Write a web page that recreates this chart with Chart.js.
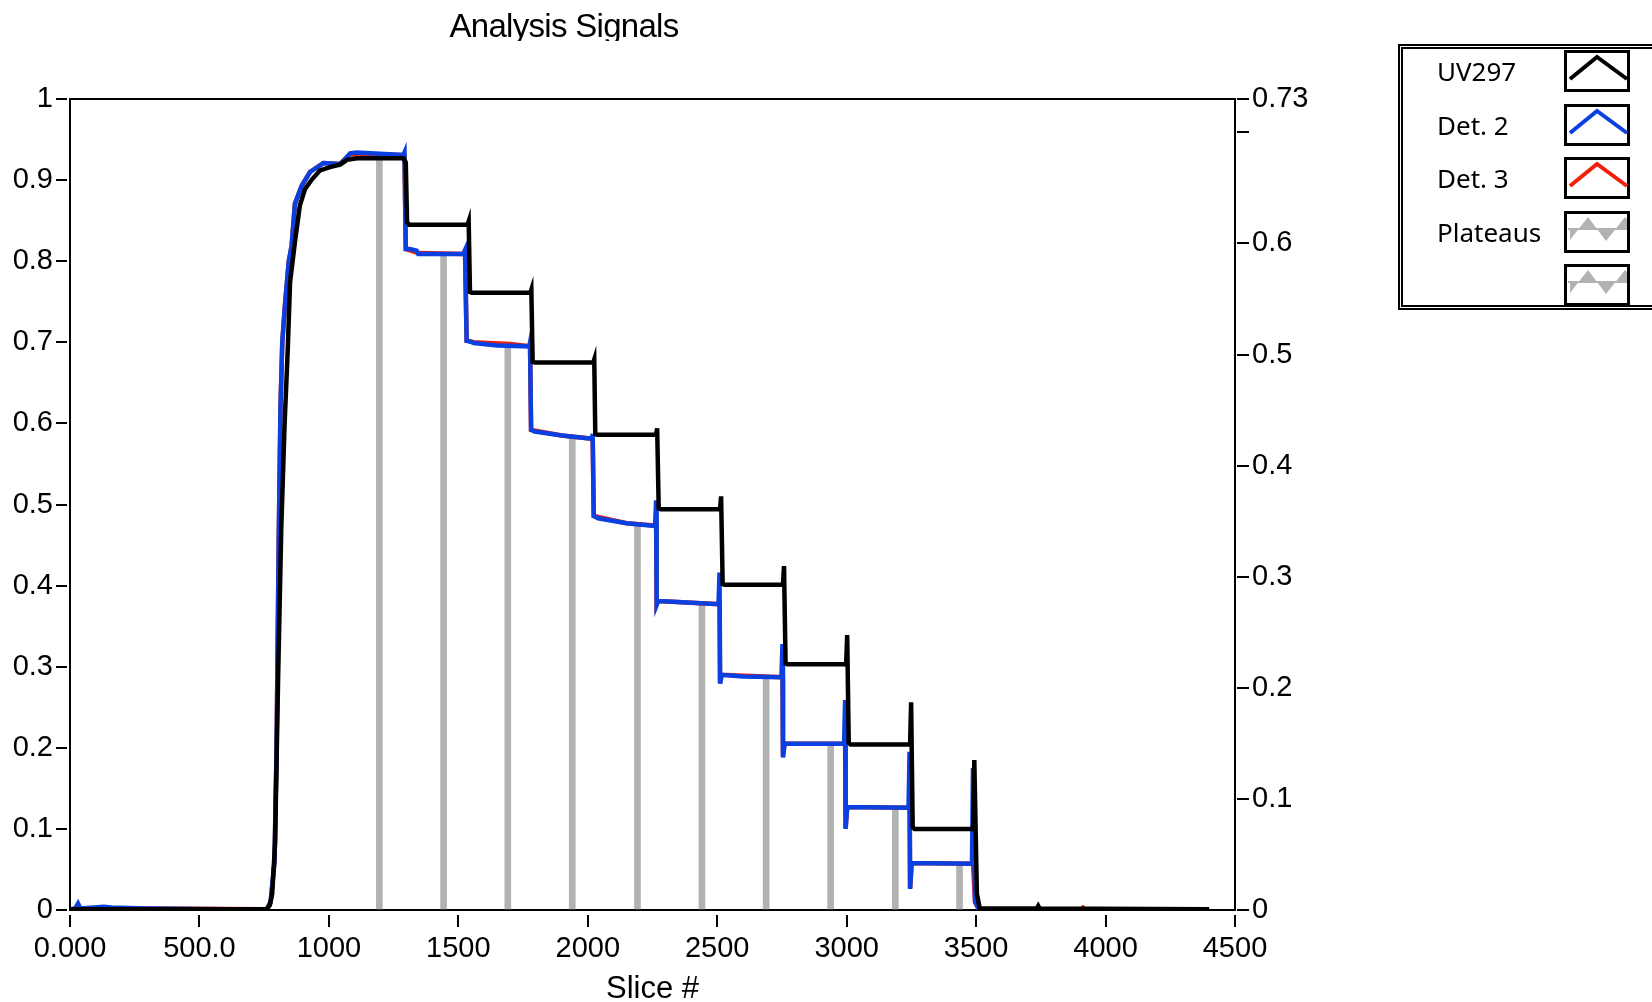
<!DOCTYPE html>
<html>
<head>
<meta charset="utf-8">
<title>Analysis Signals</title>
<script src="https://cdn.jsdelivr.net/npm/chart.js@4.4.7/dist/chart.umd.min.js"></script>
<style>
  html, body { margin: 0; padding: 0; background: #fff; overflow: hidden; }
  #wrap { position: relative; width: 1652px; height: 1002px; overflow: hidden; }
  #chart { position: absolute; left: 0; top: 0; }
  #title {
    position: absolute; left: 364px; top: 9px; width: 400px; height: 32px; overflow: hidden;
    text-align: center; font: 33px/33px "Liberation Sans", Arial, sans-serif;
    letter-spacing: -0.7px; color: #000;
  }
  #legend-frame {
    position: absolute; left: 1398px; top: 44px; width: 300px; height: 266px;
    box-sizing: border-box; border: 5px double #000;
  }
  .leg-label { position: absolute; left: 1437px; font: 26px/30px "Noto Sans", sans-serif; color: #000; white-space: nowrap; }
  .leg-swatch { position: absolute; left: 1564px; display: block; }
</style>
</head>
<body>
<div id="wrap">
  <canvas id="chart" width="1652" height="1002"></canvas>
  <div id="title">Analysis Signals</div>
  <div id="legend-frame"></div>
  <div id="legend"></div>
</div>
<script>
const seriesNames = ["UV297", "Det. 2", "Det. 3", "Plateaus"]
const seriesColors = ["#000000", "#0a40e0", "#f0200c", "#b2b2b2"]

// UV297 (black)
const uvSlices = [0, 300, 760, 772, 781, 792, 804, 816, 829, 841, 850, 869, 888, 908, 935, 966, 1004, 1043, 1070, 1109,
  1288, 1297, 1302, 1310, 1536, 1540, 1545, 1552, 1778, 1782, 1787, 1795, 2021, 2025, 2029, 2036,
  2264, 2268, 2274, 2282, 2511, 2515, 2521, 2528, 2754, 2758, 2764, 2771, 2998, 3002, 3008, 3015,
  3245, 3249, 3255, 3262, 3489, 3493, 3503, 3514, 3735, 3740, 3745, 4400]
const uvValues = [0.001, 0.001, 0.001, 0.006, 0.02, 0.081, 0.288, 0.47, 0.6, 0.69, 0.774, 0.824, 0.869, 0.889, 0.901, 0.912, 0.916, 0.919, 0.925, 0.927,
  0.927, 0.922, 0.848, 0.845, 0.845, 0.849, 0.762, 0.761, 0.761, 0.765, 0.676, 0.675, 0.675, 0.679, 0.587, 0.586,
  0.586, 0.594, 0.495, 0.494, 0.494, 0.51, 0.402, 0.401, 0.401, 0.424, 0.304, 0.303, 0.303, 0.339, 0.206, 0.204,
  0.204, 0.256, 0.102, 0.1, 0.1, 0.185, 0.02, 0.002, 0.002, 0.005, 0.002, 0.001]

// Det. 2 (blue)
const det2Slices = [0, 20, 31, 40, 130, 160, 300, 600, 760, 775, 790, 798, 806, 813, 820, 830, 845, 856, 869, 895, 927, 979, 1043, 1060, 1082, 1107,
  1288, 1292, 1297, 1313, 1339, 1345, 1519, 1526, 1532, 1545, 1560, 1650, 1774, 1777, 1781, 1795, 1900, 2016, 2019, 2023, 2040, 2150,
  2260, 2264, 2266, 2272, 2330, 2505, 2509, 2511, 2517, 2600, 2748, 2752, 2754, 2760, 2990, 2994, 2996, 3002,
  3239, 3243, 3245, 3251, 3484, 3488, 3496, 3510, 4400]
const det2Values = [0.001, 0.002, 0.008, 0.002, 0.004, 0.003, 0.002, 0.001, 0.001, 0.01, 0.06, 0.2, 0.45, 0.62, 0.7, 0.745, 0.8, 0.819, 0.871, 0.893, 0.91, 0.921, 0.92, 0.925, 0.933, 0.934,
  0.931, 0.934, 0.815, 0.815, 0.813, 0.809, 0.809, 0.814, 0.702, 0.701, 0.699, 0.696, 0.695, 0.7, 0.592, 0.59, 0.585, 0.581, 0.587, 0.486, 0.483, 0.477,
  0.4735, 0.505, 0.376, 0.381, 0.38, 0.377, 0.416, 0.279, 0.29, 0.288, 0.287, 0.328, 0.188, 0.205, 0.205, 0.259, 0.1, 0.127,
  0.126, 0.195, 0.026, 0.058, 0.057, 0.175, 0.01, 0.001, 0.001]

// Det. 3 (red, mostly under Det. 2)
const det3Slices = [0, 300, 760, 775, 790, 798, 806, 813, 820, 830, 845, 856, 869, 895, 927, 979, 1043, 1082, 1292, 1297, 1345, 1526,
  1532, 1560, 1700, 1777, 1781, 1900, 2019, 2023, 2150, 2264, 2266, 2272, 2509, 2511, 2517, 2752, 2754, 2760, 2994, 2996, 3002,
  3243, 3245, 3251, 3488, 3496, 3510, 3905, 3913, 3921, 4400]
const det3Values = [0.001, 0.002, 0.001, 0.01, 0.06, 0.2, 0.45, 0.62, 0.7, 0.745, 0.8, 0.819, 0.871, 0.893, 0.91, 0.921, 0.92, 0.932, 0.931, 0.815, 0.81, 0.809,
  0.702, 0.7, 0.698, 0.695, 0.592, 0.585, 0.581, 0.486, 0.477, 0.474, 0.377, 0.381, 0.377, 0.28, 0.29, 0.287, 0.19, 0.205, 0.205, 0.101, 0.127,
  0.126, 0.027, 0.058, 0.057, 0.01, 0.001, 0.001, 0.003, 0.001, 0.001]

// Plateaus (grey bars)
const plateauSlices = [1195, 1443, 1691, 1940, 2192, 2441, 2689, 2938, 3188, 3436]
const plateauLevels = [0.927, 0.809, 0.696, 0.581, 0.475, 0.377, 0.287, 0.205, 0.126, 0.057]

const xTicks = [0, 500, 1000, 1500, 2000, 2500, 3000, 3500, 4000, 4500]
const xTickLabels = ["0.000", "500.0", "1000", "1500", "2000", "2500", "3000", "3500", "4000", "4500"]
const leftTicks = [0, 0.1, 0.2, 0.3, 0.4, 0.5, 0.6, 0.7, 0.8, 0.9, 1]
const leftTickLabels = ["0", "0.1", "0.2", "0.3", "0.4", "0.5", "0.6", "0.7", "0.8", "0.9", "1"]
const rightTicks = [0, 0.1, 0.2, 0.3, 0.4, 0.5, 0.6, 0.7, 0.73]
const rightTickLabels = ["0", "0.1", "0.2", "0.3", "0.4", "0.5", "0.6", "", "0.73"]

const legendLabels = ["UV297", "Det. 2", "Det. 3", "Plateaus", ""]
const legendColors = ["#000000", "#0a40e0", "#f0200c", "#b2b2b2", "#b2b2b2"]

const points = (xs, ys) => xs.map((x, i) => ({ x, y: ys[i] }))
const tickFont = { family: "'Liberation Sans', Arial, sans-serif", size: 29 }

const plotFrame = {
  id: "plotFrame",
  beforeDatasetsDraw(chart) {
    const { ctx, chartArea: a } = chart
    ctx.save()
    ctx.strokeStyle = "#000"
    ctx.lineWidth = 2
    ctx.strokeRect(a.left, a.top, a.right - a.left, a.bottom - a.top)
    ctx.restore()
  }
}

const lineSet = (i, xs, ys) => ({
  label: seriesNames[i],
  data: points(xs, ys),
  borderColor: seriesColors[i],
  backgroundColor: seriesColors[i],
  borderWidth: 4.5,
  pointRadius: 0,
  tension: 0,
  fill: false
})

new Chart(document.getElementById("chart"), {
  type: "line",
  data: {
    datasets: [
      lineSet(0, uvSlices, uvValues),
      lineSet(1, det2Slices, det2Values),
      lineSet(2, det3Slices, det3Values),
      {
        type: "bar",
        label: seriesNames[3],
        data: points(plateauSlices, plateauLevels),
        backgroundColor: seriesColors[3],
        borderWidth: 0,
        barThickness: 6
      }
    ]
  },
  options: {
    responsive: false,
    animation: false,
    devicePixelRatio: 1,
    layout: { padding: { top: 99, right: 317, bottom: 0, left: 0 } },
    plugins: {
      legend: { display: false },
      tooltip: { enabled: false },
      title: { display: false }
    },
    scales: {
      x: {
        type: "linear",
        min: 0,
        max: 4500,
        offset: false,
        border: { display: false },
        grid: { offset: false, drawOnChartArea: false, color: "#000", lineWidth: 2, tickLength: 17, tickBorderDash: [0, 5, 12, 100] },
        ticks: { padding: 5, color: "#000", font: tickFont, maxRotation: 0, autoSkip: false, callback: (v, i) => xTickLabels[i] },
        afterBuildTicks: s => { s.ticks = xTicks.map(value => ({ value })) },
        afterFit: s => { s.height = 92 },
        title: {
          display: true,
          text: "Slice #",
          color: "#000",
          font: { family: "'Liberation Sans', Arial, sans-serif", size: 31, lineHeight: 0.8 },
          padding: 0
        }
      },
      y: {
        position: "left",
        min: 0,
        max: 1,
        border: { display: false },
        grid: { drawOnChartArea: false, color: "#000", lineWidth: 2, tickLength: 14, tickBorderDash: [11, 100] },
        ticks: { padding: 3, color: "#000", font: tickFont, autoSkip: false, callback: (v, i) => leftTickLabels[i] },
        afterBuildTicks: s => { s.ticks = leftTicks.map(value => ({ value })) },
        afterFit: s => { s.width = 70 }
      },
      y2: {
        position: "right",
        min: 0,
        max: 0.73,
        border: { display: false },
        grid: { drawOnChartArea: false, color: "#000", lineWidth: 2, tickLength: 14, tickBorderDash: [0, 2, 12, 100] },
        ticks: { padding: 3, color: "#000", font: tickFont, autoSkip: false, callback: (v, i) => rightTickLabels[i] },
        afterBuildTicks: s => { s.ticks = rightTicks.map(value => ({ value })) },
        afterFit: s => { s.width = 100 }
      }
    }
  },
  plugins: [plotFrame]
})

// legend: label on the left, swatch box on the right
const legend = document.getElementById("legend")
legendLabels.forEach((text, i) => {
  const rowTop = 50 + i * 53.5
  const label = document.createElement("div")
  label.className = "leg-label"
  label.style.top = (rowTop + 22 - 15.8) + "px"
  label.textContent = text
  legend.appendChild(label)

  const color = legendColors[i]
  const mark = i < 3
    ? `<polyline points="6,29 33,7 63,29" fill="none" stroke="${color}" stroke-width="4"/>`
    : `<polygon points="6,18 6,29 24,6 42,30 61,6 63,8 63,18" fill="${color}" fill-rule="evenodd"/>` +
      `<line x1="4" y1="18" x2="63" y2="18" stroke="${color}" stroke-width="2"/>`
  const box = document.createElement("div")
  box.className = "leg-swatch"
  box.style.top = rowTop + "px"
  box.innerHTML = `<svg width="66" height="42" viewBox="0 0 66 42">` +
    `<rect x="1.5" y="1.5" width="63" height="39" fill="#fff" stroke="#000" stroke-width="3"/>` + mark + `</svg>`
  legend.appendChild(box)
})
</script>
</body>
</html>
